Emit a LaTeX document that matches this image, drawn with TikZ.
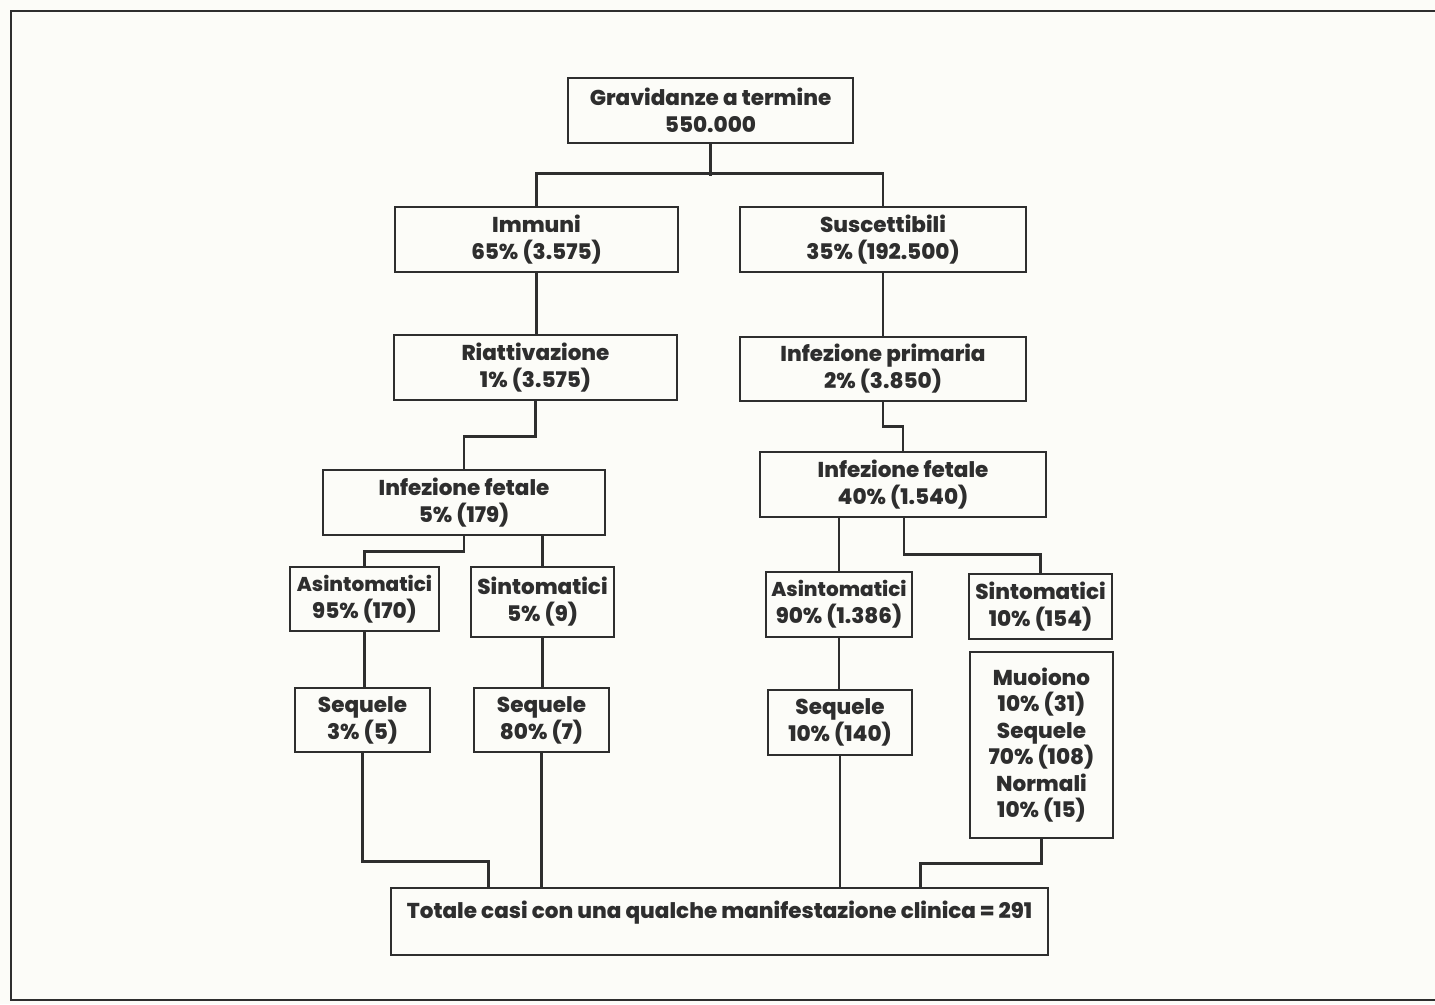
\documentclass[tikz,border=0pt]{standalone}
\usepackage{fontspec}
\setmainfont{Poppins}[BoldFont={Poppins ExtraBold}]
\usetikzlibrary{calc}
\definecolor{ink}{HTML}{2E2E2E}
\definecolor{paper}{HTML}{FCFCF8}
\newcommand{\narrowword}[1]{{\fontsize{20}{27}\selectfont #1}}
\begin{document}
\begin{tikzpicture}[x=1pt,y=-1pt,
  box/.style={draw=ink, line width=2.6pt, fill=paper, text=ink, align=center,
    inner sep=0pt, font=\fontsize{21.5}{27}\selectfont\bfseries},
  conn/.style={draw=ink, line width=2.6pt}]
\useasboundingbox (0,0) rectangle (1435,1004);
\fill[paper] (0,0) rectangle (1435,1004);
\draw[ink, line width=2pt] (1440,11) -- (11,11) -- (11,1000) -- (1440,1000);

\node[box, minimum width=285, minimum height=65] (G) at (710.5,110.5) {Gravidanze a termine\\550.000};
\node[box, minimum width=283, minimum height=65] (Imm) at (536.5,239.5) {Immuni\\65\% (3.575)};
\node[box, minimum width=286, minimum height=65] (Sus) at (883,239.5) {Suscettibili\\35\% (192.500)};
\node[box, minimum width=283, minimum height=65] (Ria) at (535.5,367.5) {Riattivazione\\1\% (3.575)};
\node[box, minimum width=286, minimum height=64] (IP) at (883,369) {Infezione primaria\\2\% (3.850)};
\node[box, minimum width=282, minimum height=65] (IFL) at (464,502.5) {Infezione fetale\\5\% (179)};
\node[box, minimum width=286, minimum height=65] (IFR) at (903,484.5) {Infezione fetale\\40\% (1.540)};
\node[box, minimum width=149, minimum height=64] (AsL) at (364.5,599) {\narrowword{Asintomatici}\\95\% (170)};
\node[box, minimum width=143, minimum height=70] (SiL) at (542.5,602) {Sintomatici\\5\% (9)};
\node[box, minimum width=146, minimum height=65] (AsR) at (839,604.5) {\narrowword{Asintomatici}\\90\% (1.386)};
\node[box, minimum width=143, minimum height=65] (SiR) at (1040.5,606.5) {Sintomatici\\10\% (154)};
\node[box, minimum width=135, minimum height=64] (SqL) at (362.5,720) {Sequele\\3\% (5)};
\node[box, minimum width=135, minimum height=64] (Sq80) at (541.5,720) {Sequele\\80\% (7)};
\node[box, minimum width=144, minimum height=65] (SqR) at (840,722.5) {Sequele\\10\% (140)};
\node[box, minimum width=143, minimum height=186, font=\fontsize{21.5}{26.5}\selectfont\bfseries] (Mu) at (1041.5,745)
  {Muoiono\\10\% (31)\\Sequele\\70\% (108)\\Normali\\10\% (15)};
\node[box, minimum width=657, minimum height=67, inner ysep=10pt, text height=20pt, text depth=27pt] (Tot) at (719.5,921.5)
  {Totale casi con una qualche manifestazione clinica = 291};

\draw[conn] (G.south) -- ++(0,32);
\draw[conn] (Imm.north) -- ++(0,-32) -| (Sus.north);
\draw[conn] (Imm.south) -- (Imm.south |- Ria.north);
\draw[conn] (Sus.south) -- (Sus.south |- IP.north);
\draw[conn] (Ria.south) -- ++(0,35) -| (IFL.north);
\draw[conn] (IP.south) -- ++(0,24) -| (IFR.north);
\draw[conn] (IFL.south) -- ++(0,15) -| (AsL.north);
\draw[conn] (SiL.north) -- (SiL.north |- IFL.south);
\draw[conn] (AsR.north) -- (AsR.north |- IFR.south);
\draw[conn] ([xshift=1pt]IFR.south) -- ++(0,36) -| (SiR.north);
\draw[conn] (AsL.south) -- (AsL.south |- SqL.north);
\draw[conn] (SiL.south) -- (SiL.south |- Sq80.north);
\draw[conn] (AsR.south) -- (AsR.south |- SqR.north);
\draw[conn] (SqL.south) -- ++(0,108) -| ([xshift=99pt]Tot.north west);
\draw[conn] (Sq80.south) -- (Sq80.south |- Tot.north);
\draw[conn] (SqR.south) -- (SqR.south |- Tot.north);
\draw[conn] (Mu.south) -- ++(0,24) -| ([xshift=-129pt]Tot.north east);
\end{tikzpicture}
\end{document}
